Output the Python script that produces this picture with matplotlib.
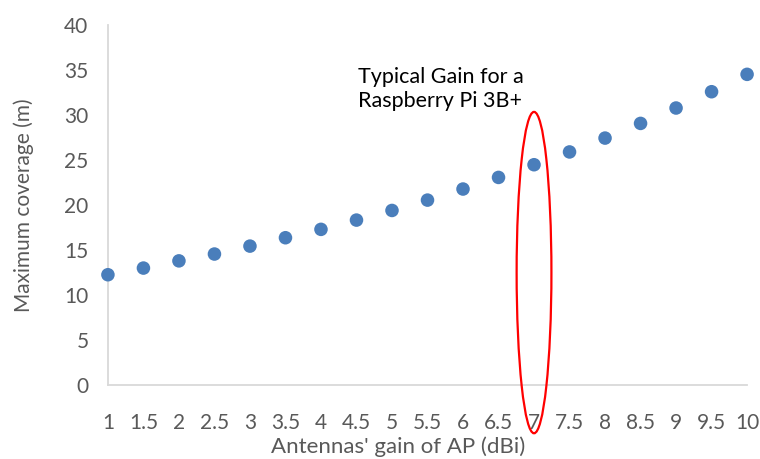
import matplotlib
matplotlib.use("Agg")
import matplotlib.pyplot as plt
from matplotlib.patches import Ellipse

plt.rcParams["font.family"] = ["Lato", "DejaVu Sans"]

# antenna gain (dBi) and the resulting max coverage (m)
gain = [1, 1.5, 2, 2.5, 3, 3.5, 4, 4.5, 5, 5.5, 6, 6.5, 7, 7.5, 8, 8.5, 9, 9.5, 10]
coverage = [12.26, 13.0, 13.8, 14.56, 15.44, 16.37, 17.3, 18.33, 19.4, 20.55,
            21.78, 23.07, 24.48, 25.9, 27.44, 29.07, 30.78, 32.59, 34.52]
gain_labels = ["1", "1.5", "2", "2.5", "3", "3.5", "4", "4.5", "5", "5.5",
               "6", "6.5", "7", "7.5", "8", "8.5", "9", "9.5", "10"]
yticks = [0, 5, 10, 15, 20, 25, 30, 35, 40]

highlight_gain = 7
note = "Typical Gain for a\nRaspberry Pi 3B+"

grey = "#595959"
blue = "#4a7ebb"

fig = plt.figure(figsize=(7.6, 4.59), dpi=100)
ax = fig.add_axes([0.142, 0.161, 0.841, 0.7845])

ax.scatter(gain, coverage, s=95, color=blue, edgecolors="none", zorder=3, clip_on=False)

ax.set_xlim(1, 10)
ax.set_ylim(0, 40)
ax.set_xticks(gain)
ax.set_xticklabels(gain_labels)
ax.set_yticks(yticks)

for side in ["top", "right"]:
    ax.spines[side].set_visible(False)
for side in ["left", "bottom"]:
    ax.spines[side].set_color("#d9d9d9")
    ax.spines[side].set_linewidth(1.3)

ax.tick_params(axis="both", length=0, labelsize=15, colors=grey)
ax.tick_params(axis="x", pad=20)
ax.tick_params(axis="y", pad=14)

ax.set_ylabel("Maximum coverage (m)", fontsize=15, color=grey)
ax.yaxis.set_label_coords(-0.115, 0.5)
fig.text(398 / 760, 1 - 447 / 459, "Antennas' gain of AP (dBi)", fontsize=16,
         color=grey, ha="center", va="center")

# red ring round the typical Pi gain
ring = Ellipse((highlight_gain, 12.5), width=0.49, height=35.7, fill=False,
               edgecolor="#ff0000", linewidth=1.6, clip_on=False, zorder=4)
ax.add_patch(ring)

fig.text(358 / 760, 1 - 89 / 459, note, fontsize=15.5, color="black",
         ha="left", va="center", linespacing=1.25)

fig.savefig("out.png", dpi=100)
